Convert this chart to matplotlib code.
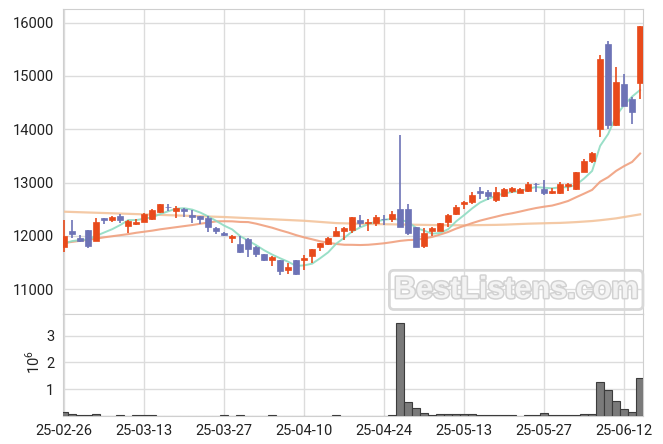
import matplotlib
matplotlib.use("Agg")
import matplotlib.pyplot as plt
import matplotlib.patheffects as pe
import numpy as np

plt.rcParams["font.family"] = ["Roboto", "DejaVu Sans"]
plt.rcParams["mathtext.fontset"] = "custom"
plt.rcParams["mathtext.rm"] = "Roboto"

# daily candles, 25-02-26 .. 25-06-16
opens = [11800, 12090, 11970, 12110, 11910, 12330, 12300, 12370, 12190, 12220,
         12270, 12310, 12440, 12550, 12470, 12500, 12400, 12370, 12340, 12140,
         12060, 11970, 11850, 11950, 11790, 11660, 11540, 11550, 11360, 11550,
         11540, 11620, 11800, 11850, 12000, 12100, 12120, 12290, 12250, 12250,
         12320, 12310, 12500, 12500, 12160, 11810, 12100, 12100, 12270, 12410,
         12600, 12640, 12850, 12820, 12670, 12740, 12850, 12810, 12850, 12980,
         12880, 12810, 12800, 12940, 12880, 13200, 13410, 14000, 15600, 14080,
         14850, 14570, 14870]
highs = [12300, 12300, 12020, 12120, 12330, 12340, 12370, 12420, 12290, 12310,
         12430, 12500, 12600, 12600, 12560, 12520, 12490, 12380, 12370, 12170,
         12080, 12010, 12000, 11960, 11820, 11670, 11620, 11550, 11490, 11550,
         11640, 11760, 11860, 11980, 12160, 12170, 12350, 12390, 12310, 12390,
         12390, 12470, 13900, 12600, 12170, 12140, 12170, 12250, 12420, 12580,
         12650, 12830, 12910, 12860, 12920, 12900, 12910, 12900, 13020, 12990,
         13040, 12890, 13020, 12990, 13200, 13440, 13580, 15390, 15660, 15160,
         15040, 14610, 15940]
lows = [11700, 11970, 11880, 11770, 11900, 12220, 12260, 12250, 12060, 12210,
        12260, 12300, 12430, 12470, 12340, 12350, 12250, 12220, 12080, 12040,
        12000, 11860, 11680, 11600, 11600, 11530, 11440, 11270, 11290, 11270,
        11370, 11500, 11720, 11830, 11990, 11920, 12060, 12160, 12100, 12190,
        12200, 12270, 12170, 12020, 11800, 11770, 12000, 12090, 12160, 12400,
        12500, 12600, 12690, 12670, 12640, 12730, 12800, 12800, 12830, 12830,
        12770, 12780, 12790, 12850, 12870, 13190, 13370, 13860, 14000, 14070,
        14440, 14090, 14560]
closes = [11990, 12040, 11910, 11820, 12270, 12300, 12350, 12300, 12280, 12270,
          12420, 12490, 12600, 12540, 12520, 12460, 12360, 12320, 12170, 12100,
          12010, 12000, 11690, 11750, 11670, 11540, 11600, 11350, 11420, 11290,
          11590, 11760, 11860, 11970, 12090, 12140, 12350, 12250, 12270, 12350,
          12310, 12420, 12170, 12050, 11800, 12050, 12140, 12250, 12390, 12540,
          12640, 12770, 12800, 12740, 12820, 12880, 12890, 12880, 12970, 12970,
          12810, 12840, 12970, 12970, 13190, 13410, 13550, 15320, 14080, 14890,
          14440, 14330, 15940]

ma5 = [11862, 11905, 11923, 11937, 12003, 12066, 12128, 12206, 12298, 12298,
       12324, 12351, 12411, 12463, 12513, 12520, 12494, 12439, 12366, 12282,
       12193, 12122, 11996, 11911, 11826, 11731, 11650, 11581, 11516, 11438,
       11449, 11481, 11583, 11694, 11855, 11965, 12084, 12161, 12220, 12271,
       12305, 12320, 12305, 12261, 12151, 12099, 12042, 12057, 12126, 12274,
       12392, 12517, 12628, 12697, 12753, 12799, 12824, 12840, 12887, 12917,
       12904, 12894, 12913, 12914, 12959, 13078, 13219, 13688, 13910, 14250,
       14457, 14613, 14737]
ma20 = [11870, 11890, 11910, 11930, 11950, 11975, 11995, 12015, 12035, 12060,
        12080, 12100, 12125, 12145, 12165, 12185, 12205, 12230, 12250, 12274,
        12276, 12274, 12263, 12260, 12230, 12192, 12154, 12107, 12064, 12015,
        11973, 11937, 11900, 11872, 11850, 11835, 11834, 11830, 11835, 11848,
        11863, 11884, 11908, 11923, 11929, 11954, 11982, 12027, 12075, 12138,
        12190, 12241, 12288, 12326, 12362, 12399, 12426, 12458, 12493, 12524,
        12549, 12570, 12610, 12656, 12726, 12794, 12864, 13017, 13102, 13220,
        13310, 13388, 13545]
ma_long = [12455, 12450, 12445, 12440, 12435, 12430, 12425, 12420, 12415, 12410,
           12405, 12400, 12395, 12390, 12385, 12380, 12375, 12370, 12365, 12360,
           12355, 12348, 12341, 12334, 12327, 12320, 12313, 12306, 12299, 12292,
           12285, 12274, 12263, 12252, 12241, 12237, 12233, 12229, 12225, 12222,
           12220, 12218, 12215, 12213, 12210, 12208, 12205, 12203, 12202, 12201,
           12200, 12202, 12204, 12206, 12208, 12212, 12218, 12224, 12230, 12234,
           12238, 12242, 12245, 12252, 12260, 12270, 12280, 12295, 12312, 12330,
           12355, 12380, 12405]

# volume in millions of shares
volume = [0.13, 0.08, 0.03, 0.03, 0.08, 0.0, 0.0, 0.03, 0.0, 0.03,
          0.03, 0.03, 0.0, 0.0, 0.0, 0.0, 0.0, 0.0, 0.0, 0.0,
          0.03, 0.0, 0.03, 0.0, 0.0, 0.0, 0.03, 0.0, 0.0, 0.0,
          0.0, 0.0, 0.0, 0.0, 0.03, 0.0, 0.0, 0.0, 0.0, 0.0,
          0.0, 0.04, 3.46, 0.50, 0.28, 0.09, 0.02, 0.08, 0.08, 0.08,
          0.08, 0.08, 0.03, 0.03, 0.03, 0.03, 0.03, 0.0, 0.03, 0.03,
          0.10, 0.03, 0.03, 0.03, 0.03, 0.08, 0.08, 1.27, 0.96, 0.56,
          0.25, 0.14, 1.40]

tick_labels = ["25-02-26", "25-03-13", "25-03-27", "25-04-10",
               "25-04-24", "25-05-13", "25-05-27", "25-06-12"]

UP = "#e84a1b"
DOWN = "#6d73b6"
GRID = "#dcdcdc"

o = np.array(opens)
c = np.array(closes)
x = np.arange(len(closes))
up = c >= o
colors = np.where(up, UP, DOWN)

fig = plt.figure(figsize=(6.63, 4.44), dpi=100)
ax = fig.add_axes([0.0946, 0.2928, 0.8757, 0.6863])
axv = fig.add_axes([0.0946, 0.0637, 0.8757, 0.2291], sharex=ax)

ax.plot(x, ma_long, color="#f3c49c", lw=1.6, alpha=0.9, zorder=2)
ax.plot(x, ma20, color="#f0a07e", lw=1.5, alpha=0.9, zorder=2)
ax.plot(x, ma5, color="#8fdcc2", lw=1.4, alpha=0.9, zorder=2)

ax.vlines(x, lows, highs, colors=colors, lw=1.2, zorder=3)
body_h = np.maximum(np.abs(c - o), 12)
ax.bar(x, body_h, bottom=np.minimum(o, c), width=0.72, color=colors,
       edgecolor=colors, lw=0.5, zorder=4)

axv.bar(x, volume, width=1.0, color="#7a7a7a", edgecolor="#3c3c3c", lw=0.8,
        zorder=3)

ax.set_xlim(-0.2, 72.4)
ax.set_ylim(10537, 16250)
ax.set_yticks([11000, 12000, 13000, 14000, 15000, 16000])
axv.set_ylim(0, 3.81)
axv.set_yticks([1, 2, 3])
axv.set_xticks(range(0, 80, 10))
axv.set_xticklabels(tick_labels)

for a in (ax, axv):
    a.grid(True, color=GRID, lw=1.0, zorder=0)
    a.set_axisbelow(True)
    a.tick_params(length=0, labelsize=10.5, colors="#222222", pad=6)
    for s in a.spines.values():
        s.set_color("#cfcfcf")
plt.setp(ax.get_xticklabels(), visible=False)

fig.text(0.05, 1 - 362 / 444, r"$10^6$", rotation=90, ha="center",
         va="center", fontsize=10.5, color="#222222")

ax.text(0.781, 0.079, "BestListens.com", transform=ax.transAxes,
        ha="center", va="center", fontsize=22, fontweight="bold",
        family="Liberation Sans", color="#f3f3f3", zorder=5,
        path_effects=[pe.withStroke(linewidth=2.2, foreground="#d2d2d2")],
        bbox=dict(boxstyle="round,pad=0.15", facecolor="none",
                  edgecolor="#d8d8d8", lw=2))

fig.savefig("out.png", dpi=100)
